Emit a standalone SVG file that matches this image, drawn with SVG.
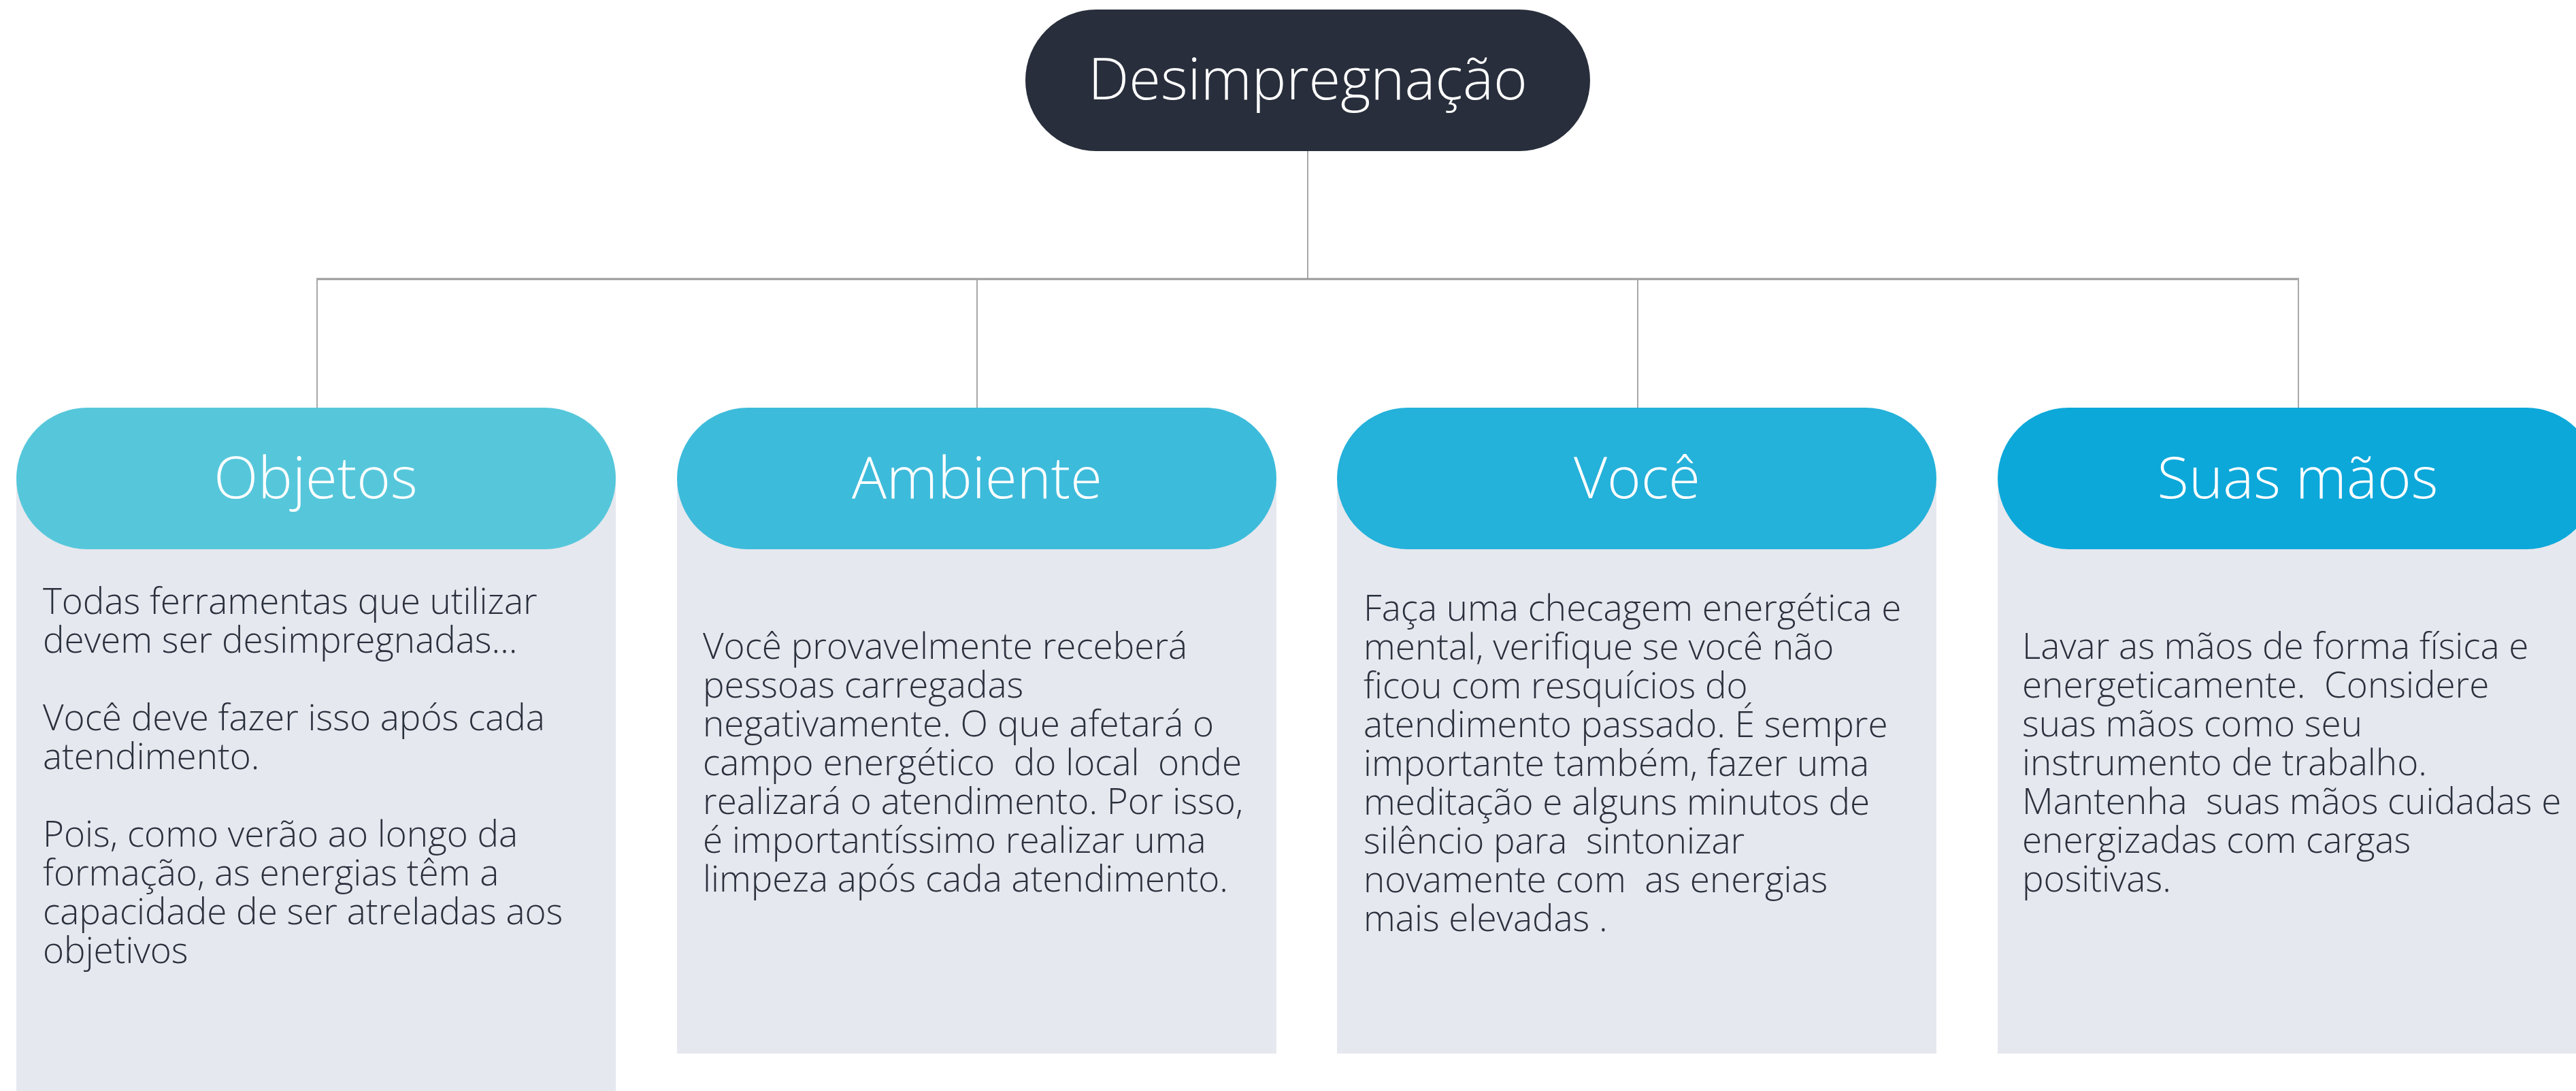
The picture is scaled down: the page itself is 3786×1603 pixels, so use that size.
<svg xmlns="http://www.w3.org/2000/svg" width="3786" height="1603" viewBox="0 0 3786 1603">
<style>
.bg{fill:#ffffff}
.body{fill:#e5e8ee}
.head{font-family:"Open Sans","Liberation Sans",sans-serif;font-weight:300;font-size:85px;fill:#ffffff;text-anchor:middle}
.txt{font-family:"Open Sans","Liberation Sans",sans-serif;font-weight:300;font-size:53px;fill:#2b303d;white-space:pre}
.conn{stroke:#a8a8a8;stroke-width:2;fill:none}
.hconn{stroke:#999999;stroke-width:3;fill:none}
</style>
<rect class="bg" x="0" y="0" width="3786" height="1603"/>
<g id="connectors">
<line class="conn" x1="1922" y1="222" x2="1922" y2="410"/>
<line class="hconn" x1="465" y1="410" x2="3379" y2="410"/>
<line class="conn" x1="466" y1="410" x2="466" y2="600"/>
<line class="conn" x1="1436" y1="410" x2="1436" y2="600"/>
<line class="conn" x1="2407" y1="410" x2="2407" y2="600"/>
<line class="conn" x1="3378" y1="410" x2="3378" y2="600"/>
</g>
<g id="root">
<rect x="1507" y="14" width="830" height="208" rx="104" ry="104" fill="#282e3b"/>
<text class="head" x="1922" y="146">Desimpregnação</text>
</g>
<g id="objetos">
<rect class="body" x="24" y="695" width="881" height="908"/>
<rect x="24" y="599" width="881" height="208" rx="104" ry="104" fill="#56c7db"/>
<text class="head" x="464" y="732">Objetos</text>
<text class="txt" x="63" y="902">Todas ferramentas que utilizar</text>
<text class="txt" x="63" y="959">devem ser desimpregnadas…</text>
<text class="txt" x="63" y="1073">Você deve fazer isso após cada</text>
<text class="txt" x="63" y="1130">atendimento.</text>
<text class="txt" x="63" y="1244">Pois, como verão ao longo da</text>
<text class="txt" x="63" y="1301">formação, as energias têm a</text>
<text class="txt" x="63" y="1358">capacidade de ser atreladas aos</text>
<text class="txt" x="63" y="1415">objetivos</text>
</g>
<g id="ambiente">
<rect class="body" x="995" y="710" width="881" height="838"/>
<rect x="995" y="599" width="881" height="208" rx="104" ry="104" fill="#3dbbdb"/>
<text class="head" x="1436" y="732">Ambiente</text>
<text class="txt" x="1033" y="968">Você provavelmente receberá</text>
<text class="txt" x="1033" y="1025">pessoas carregadas</text>
<text class="txt" x="1033" y="1082">negativamente. O que afetará o</text>
<text class="txt" x="1033" y="1139">campo energético  do local  onde</text>
<text class="txt" x="1033" y="1196">realizará o atendimento. Por isso,</text>
<text class="txt" x="1033" y="1253">é importantíssimo realizar uma</text>
<text class="txt" x="1033" y="1310">limpeza após cada atendimento.</text>
</g>
<g id="voce">
<rect class="body" x="1965" y="710" width="881" height="838"/>
<rect x="1965" y="599" width="881" height="208" rx="104" ry="104" fill="#24b1da"/>
<text class="head" x="2406" y="732">Você</text>
<text class="txt" x="2004" y="912">Faça uma checagem energética e</text>
<text class="txt" x="2004" y="969">mental, verifique se você não</text>
<text class="txt" x="2004" y="1026">ficou com resquícios do</text>
<text class="txt" x="2004" y="1083">atendimento passado. É sempre</text>
<text class="txt" x="2004" y="1140">importante também, fazer uma</text>
<text class="txt" x="2004" y="1197">meditação e alguns minutos de</text>
<text class="txt" x="2004" y="1254">silêncio para  sintonizar</text>
<text class="txt" x="2004" y="1311">novamente com  as energias</text>
<text class="txt" x="2004" y="1368">mais elevadas .</text>
</g>
<g id="suas-maos">
<rect class="body" x="2936" y="710" width="881" height="838"/>
<rect x="2936" y="599" width="881" height="208" rx="104" ry="104" fill="#0ca8da"/>
<text class="head" x="3377" y="732">Suas mãos</text>
<text class="txt" x="2972" y="968">Lavar as mãos de forma física e</text>
<text class="txt" x="2972" y="1025">energeticamente.  Considere</text>
<text class="txt" x="2972" y="1082">suas mãos como seu</text>
<text class="txt" x="2972" y="1139">instrumento de trabalho.</text>
<text class="txt" x="2972" y="1196">Mantenha  suas mãos cuidadas e</text>
<text class="txt" x="2972" y="1253">energizadas com cargas</text>
<text class="txt" x="2972" y="1310">positivas.</text>
</g>
</svg>
